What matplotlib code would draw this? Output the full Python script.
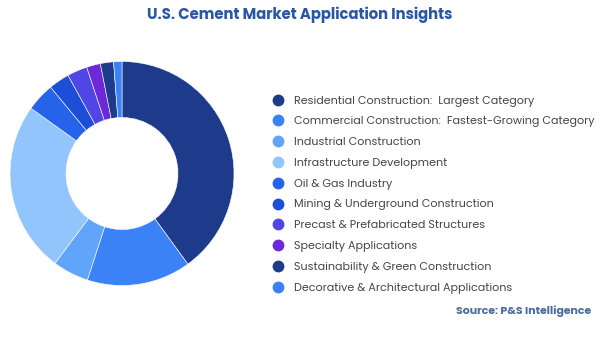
import matplotlib.pyplot as plt
from matplotlib.lines import Line2D

plt.rcParams['font.family'] = ['Poppins', 'Inter', 'DejaVu Sans']

categorias = [
    'Residential Construction:  Largest Category',
    'Commercial Construction:  Fastest-Growing Category',
    'Industrial Construction',
    'Infrastructure Development',
    'Oil & Gas Industry',
    'Mining & Underground Construction',
    'Precast & Prefabricated Structures',
    'Specialty Applications',
    'Sustainability & Green Construction',
    'Decorative & Architectural Applications',
]
participacao = [40.0, 15.0, 5.2, 24.7, 4.1, 3.0, 2.9, 2.0, 1.9, 1.2]
cores = ['#1e3a8a', '#3b82f6', '#60a5fa', '#93c5fd', '#2563eb',
         '#1d4ed8', '#4f46e5', '#6d28d9', '#1e3a8a', '#3b82f6']

W, H = 600, 337
fig = plt.figure(figsize=(W / 100, H / 100), dpi=100)

# donut
cx, cy, r = 122, 173.5, 112
ax = fig.add_axes([(cx - r) / W, (H - cy - r) / H, 2 * r / W, 2 * r / H])
ax.pie(participacao, colors=cores, startangle=90, counterclock=False,
       radius=1.0, wedgeprops=dict(width=0.5, edgecolor='white', linewidth=0.4))
ax.set_xlim(-1, 1)
ax.set_ylim(-1, 1)
ax.set_aspect('equal')
ax.axis('off')

# legenda
alcas = [Line2D([], [], marker='o', linestyle='', markersize=7.5,
                markerfacecolor=c, markeredgecolor=c) for c in cores]
fig.legend(alcas, categorias, loc='upper left',
           bbox_to_anchor=(267 / W, 1 - 90 / H), frameon=False,
           fontsize=8, labelcolor='#444444', handlelength=1.0,
           handletextpad=0.95, labelspacing=0.88, borderpad=0)

fig.text(0.5, 1 - 15 / H, 'U.S. Cement Market Application Insights',
         ha='center', va='center', fontsize=10.7, fontweight='bold', color='#2a57a5')
fig.text(591 / W, 1 - 311 / H, 'Source: P&S Intelligence',
         ha='right', va='center', fontsize=7.9, fontweight='bold', color='#4a6b9e')

fig.savefig('out.png', dpi=100)
